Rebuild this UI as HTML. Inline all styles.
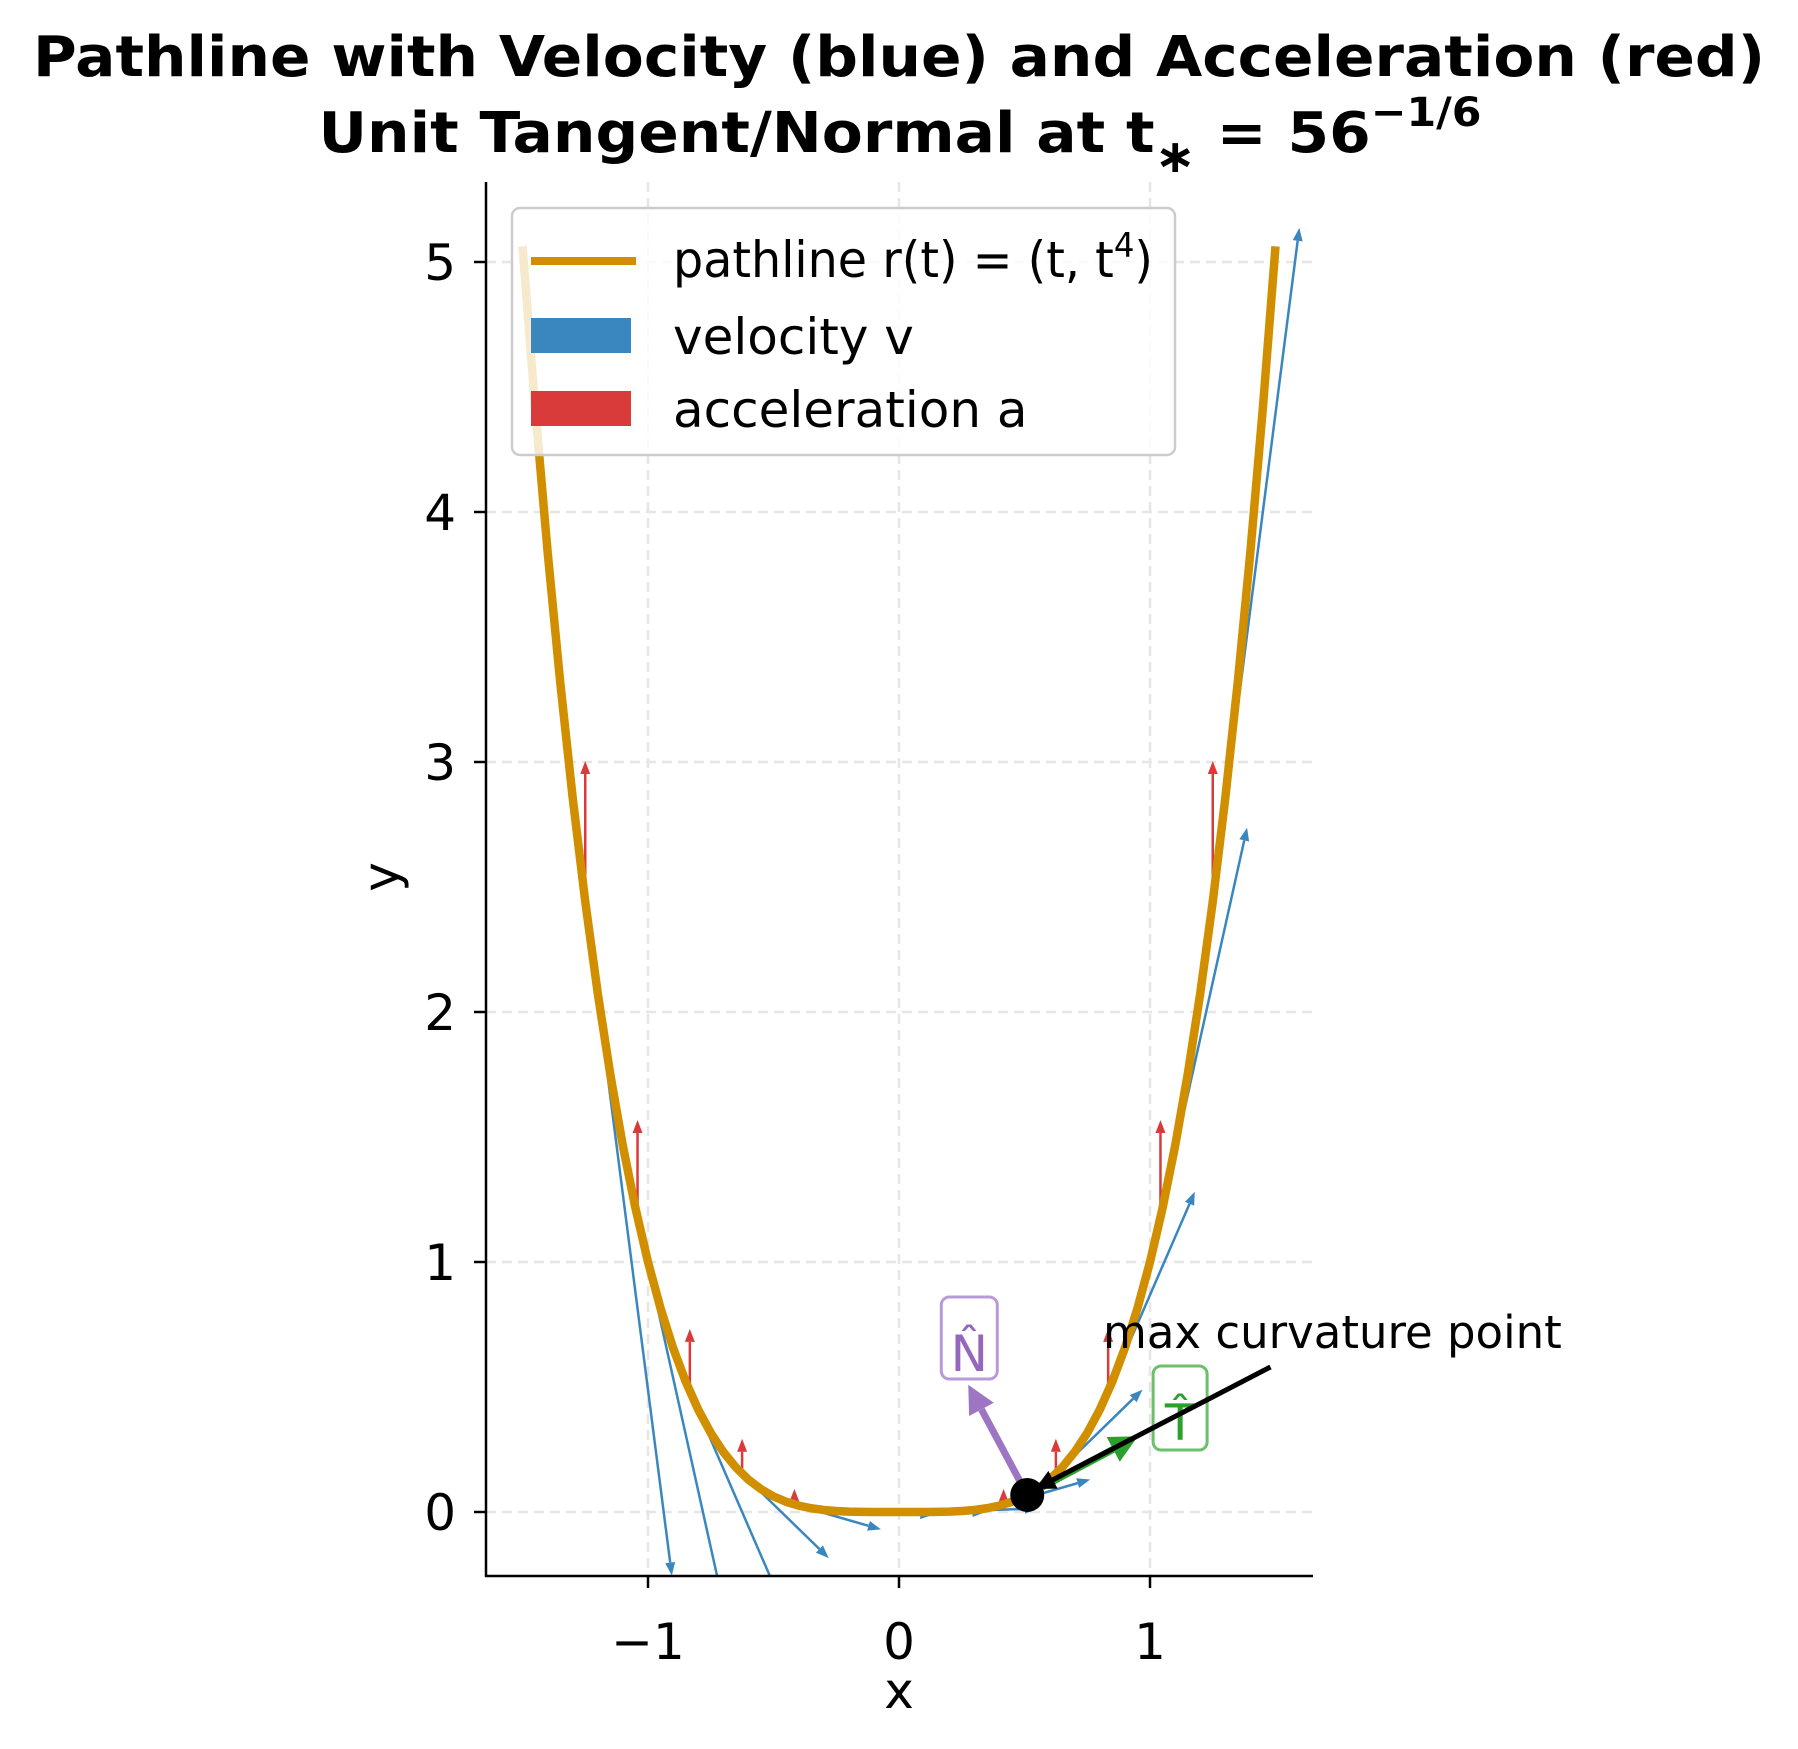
<!DOCTYPE html>
<html><head><meta charset="utf-8"><style>
html,body{margin:0;padding:0;background:#fff;}
svg{display:block;font-family:"DejaVu Sans","Liberation Sans",sans-serif;}
</style></head><body>
<svg id="chart" width="1798" height="1749" viewBox="0 0 1798 1749">
<defs><clipPath id="plotclip"><rect x="486" y="182" width="827" height="1394"/></clipPath></defs>
<text x="899" y="76" text-anchor="middle" font-size="56" font-weight="bold" textLength="1732" lengthAdjust="spacingAndGlyphs">Pathline with Velocity (blue) and Acceleration (red)</text>
<text x="900" y="152" text-anchor="middle" font-size="56" font-weight="bold" textLength="1163" lengthAdjust="spacingAndGlyphs">Unit Tangent/Normal at t<tspan font-size="46" dy="20">∗</tspan><tspan dy="-20"> = 56</tspan><tspan font-size="40" dy="-26">−1/6</tspan></text>
<g id="grid"></g>
<g id="marks" clip-path="url(#plotclip)"></g>
<g id="axes"></g>
<g id="legend">
<rect x="512" y="208" width="663" height="247" rx="8" fill="#fff" fill-opacity="0.8" stroke="#ccc" stroke-width="2.5"/>
<line x1="531" y1="261" x2="636" y2="261" stroke="#d18f00" stroke-width="8"/>
<text x="673" y="277" font-size="50" textLength="480" lengthAdjust="spacingAndGlyphs">pathline r(t) = (t, t<tspan font-size="34" dy="-20">4</tspan><tspan dy="20">)</tspan></text>
<rect x="531" y="318" width="100" height="35" fill="#3a87c0"/>
<text x="673" y="354" font-size="50">velocity v</text>
<rect x="531" y="391" width="100" height="35" fill="#d93b3b"/>
<text x="673" y="427" font-size="50">acceleration a</text>
</g>
</svg>
<script>
const xTicks = [-1, 0, 1];
const xTickLabels = ["−1", "0", "1"];
const yTicks = [0, 1, 2, 3, 4, 5];
const yTickLabels = ["0", "1", "2", "3", "4", "5"];
const pathX = [-1.5,-1.45,-1.4,-1.35,-1.3,-1.25,-1.2,-1.15,-1.1,-1.05,-1.0,-0.95,-0.9,-0.85,-0.8,-0.75,-0.7,-0.65,-0.6,-0.55,-0.5,-0.45,-0.4,-0.35,-0.3,-0.25,-0.2,-0.15,-0.1,-0.05,0,0.05,0.1,0.15,0.2,0.25,0.3,0.35,0.4,0.45,0.5,0.55,0.6,0.65,0.7,0.75,0.8,0.85,0.9,0.95,1.0,1.05,1.1,1.15,1.2,1.25,1.3,1.35,1.4,1.45,1.5];
const pathY = [5.0625,4.4205,3.8416,3.3215,2.8561,2.4414,2.0736,1.749,1.4641,1.2155,1.0,0.8145,0.6561,0.522,0.4096,0.3164,0.2401,0.1785,0.1296,0.0915,0.0625,0.041,0.0256,0.015,0.0081,0.0039,0.0016,0.0005,0.0001,0.0,0,0.0,0.0001,0.0005,0.0016,0.0039,0.0081,0.015,0.0256,0.041,0.0625,0.0915,0.1296,0.1785,0.2401,0.3164,0.4096,0.522,0.6561,0.8145,1.0,1.2155,1.4641,1.749,2.0736,2.4414,2.8561,3.3215,3.8416,4.4205,5.0625];
const sampleX = [-1.25,-1.0417,-0.8333,-0.625,-0.4167,-0.2083,0,0.2083,0.4167,0.625,0.8333,1.0417,1.25];
const sampleY = [2.4414,1.1774,0.4823,0.1526,0.0301,0.0019,0,0.0019,0.0301,0.1526,0.4823,1.1774,2.4414];
const velX = [1,1,1,1,1,1,1,1,1,1,1,1,1];
const velY = [-7.8125,-4.5211,-2.3148,-0.9766,-0.2894,-0.0362,0,0.0362,0.2894,0.9766,2.3148,4.5211,7.8125];
const accX = [0,0,0,0,0,0,0,0,0,0,0,0,0];
const accY = [18.75,13.021,8.333,4.6875,2.0833,0.5208,0,0.5208,2.0833,4.6875,8.333,13.021,18.75];
const velScale = [0.345];
const accScale = [0.03];
const specialPoint = [0.5109, 0.0681];
const tangentVec = [0.441, 0.235];
const normalVec = [-0.235, 0.441];

const NS = "http://www.w3.org/2000/svg";
const sx = x => 899 + 251 * x;
const sy = y => 1512 - 250 * y;
function mk(tag, attrs, parent) {
  const e = document.createElementNS(NS, tag);
  for (const k in attrs) e.setAttribute(k, attrs[k]);
  parent.appendChild(e);
  return e;
}
const grid = document.getElementById('grid');
const axes = document.getElementById('axes');
const marks = document.getElementById('marks');

xTicks.forEach((v, i) => {
  const g = mk('line', {x1: sx(v), x2: sx(v), y1: 182, y2: 1576, stroke: '#e6e6e6', 'stroke-width': 2.5, 'stroke-dasharray': '10,6'}, grid);
  
  
  const t = mk('line', {x1: sx(v), x2: sx(v), y1: 1576, y2: 1588, stroke: '#000', 'stroke-width': 2.5}, axes);
  
  
  const l = mk('text', {x: sx(v), y: 1659, 'text-anchor': 'middle', 'font-size': 50}, axes);
  l.textContent = xTickLabels[i];
  
  
});
yTicks.forEach((v, i) => {
  const g = mk('line', {x1: 486, x2: 1313, y1: sy(v), y2: sy(v), stroke: '#e6e6e6', 'stroke-width': 2.5, 'stroke-dasharray': '10,6'}, grid);
  
  
  const t = mk('line', {x1: 474, x2: 486, y1: sy(v), y2: sy(v), stroke: '#000', 'stroke-width': 2.5}, axes);
  
  
  const l = mk('text', {x: 456, y: sy(v) + 18, 'text-anchor': 'end', 'font-size': 50}, axes);
  l.textContent = yTickLabels[i];
  
  
});
const spL = mk('line', {x1: 486, x2: 486, y1: 182, y2: 1577, stroke: '#000', 'stroke-width': 2.5}, axes);


const spB = mk('line', {x1: 485, x2: 1313, y1: 1576, y2: 1576, stroke: '#000', 'stroke-width': 2.5}, axes);


const xl = mk('text', {x: 899, y: 1708, 'text-anchor': 'middle', 'font-size': 50}, axes);
xl.textContent = 'x';


const yl = mk('text', {x: 0, y: 0, 'text-anchor': 'middle', 'font-size': 50, transform: 'translate(398,877) rotate(-90)'}, axes);
yl.textContent = 'y';



function arrow(x0, y0, x1, y1, color, w, hl, hw, parent, name, opacity) {
  const dx = x1 - x0, dy = y1 - y0, L = Math.hypot(dx, dy);
  if (L < 1) return;
  const ux = dx / L, uy = dy / L, px = -uy, py = ux;
  const h = Math.min(hl, L);
  const bx = x1 - ux * h, by = y1 - uy * h;
  const g = mk('g', {opacity: opacity || 1}, parent);
  
  
  mk('line', {x1: x0, y1: y0, x2: bx, y2: by, stroke: color, 'stroke-width': w}, g);
  mk('polygon', {points: `${x1},${y1} ${bx + px * hw},${by + py * hw} ${bx - px * hw},${by - py * hw}`, fill: color}, g);
}

sampleX.forEach((x, i) => {
  const x0 = sx(x), y0 = sy(sampleY[i]);
  const x1 = sx(x + velX[i] * velScale[0]), y1 = sy(sampleY[i] + velY[i] * velScale[0]);
  arrow(x0, y0, x1, y1, '#3a87c0', 2.5, 13, 5, marks, 'velocity-arrow');
});
sampleX.forEach((x, i) => {
  const x0 = sx(x), y0 = sy(sampleY[i]);
  const x1 = sx(x + accX[i] * accScale[0]), y1 = sy(sampleY[i] + accY[i] * accScale[0]);
  arrow(x0, y0, x1, y1, '#d93b3b', 2.5, 13, 5, marks, 'acceleration-arrow');
});
const pts = pathX.map((x, i) => sx(x) + ',' + sy(pathY[i])).join(' ');
const pl = mk('polyline', {points: pts, fill: 'none', stroke: '#d18f00', 'stroke-width': 8.5, 'stroke-linejoin': 'round'}, marks);



const px0 = sx(specialPoint[0]), py0 = sy(specialPoint[1]);
arrow(px0, py0, sx(specialPoint[0] + normalVec[0]), sy(specialPoint[1] + normalVec[1]), '#9467bd', 7, 28, 14, marks, 'unit-normal-arrow', 0.9);
arrow(px0, py0, sx(specialPoint[0] + tangentVec[0]), sy(specialPoint[1] + tangentVec[1]), '#2ca02c', 7, 28, 14, marks, 'unit-tangent-arrow', 1);

const nb = mk('rect', {x: sx(0.28) - 28, y: sy(0.62) - 60, width: 56, height: 82, rx: 8, fill: '#fff', 'fill-opacity': 0.6, stroke: '#b89bd6', 'stroke-width': 3}, marks);


const nt = mk('text', {x: sx(0.28), y: sy(0.62) + 14, 'text-anchor': 'middle', 'font-size': 50, fill: '#9467bd'}, marks);
nt.textContent = 'N̂';


const tb = mk('rect', {x: sx(1.12) - 27, y: sy(0.36) - 56, width: 54, height: 84, rx: 8, fill: '#fff', 'fill-opacity': 0.6, stroke: '#6cbf6c', 'stroke-width': 3}, marks);


const tt = mk('text', {x: sx(1.12), y: sy(0.36) + 18, 'text-anchor': 'middle', 'font-size': 50, fill: '#2ca02c'}, marks);
tt.textContent = 'T̂';



arrow(sx(1.48), sy(0.58), px0 + 8, py0 - 6, '#000', 5, 20, 10, marks, 'max-curvature-annotation-arrow');
const dot = mk('circle', {cx: px0, cy: py0, r: 17, fill: '#000'}, marks);


const at = mk('text', {x: 1103, y: 1348, 'font-size': 45}, document.getElementById('chart'));
at.textContent = 'max curvature point';


document.getElementById('chart').appendChild(document.getElementById('legend'));
</script>
</body></html>
